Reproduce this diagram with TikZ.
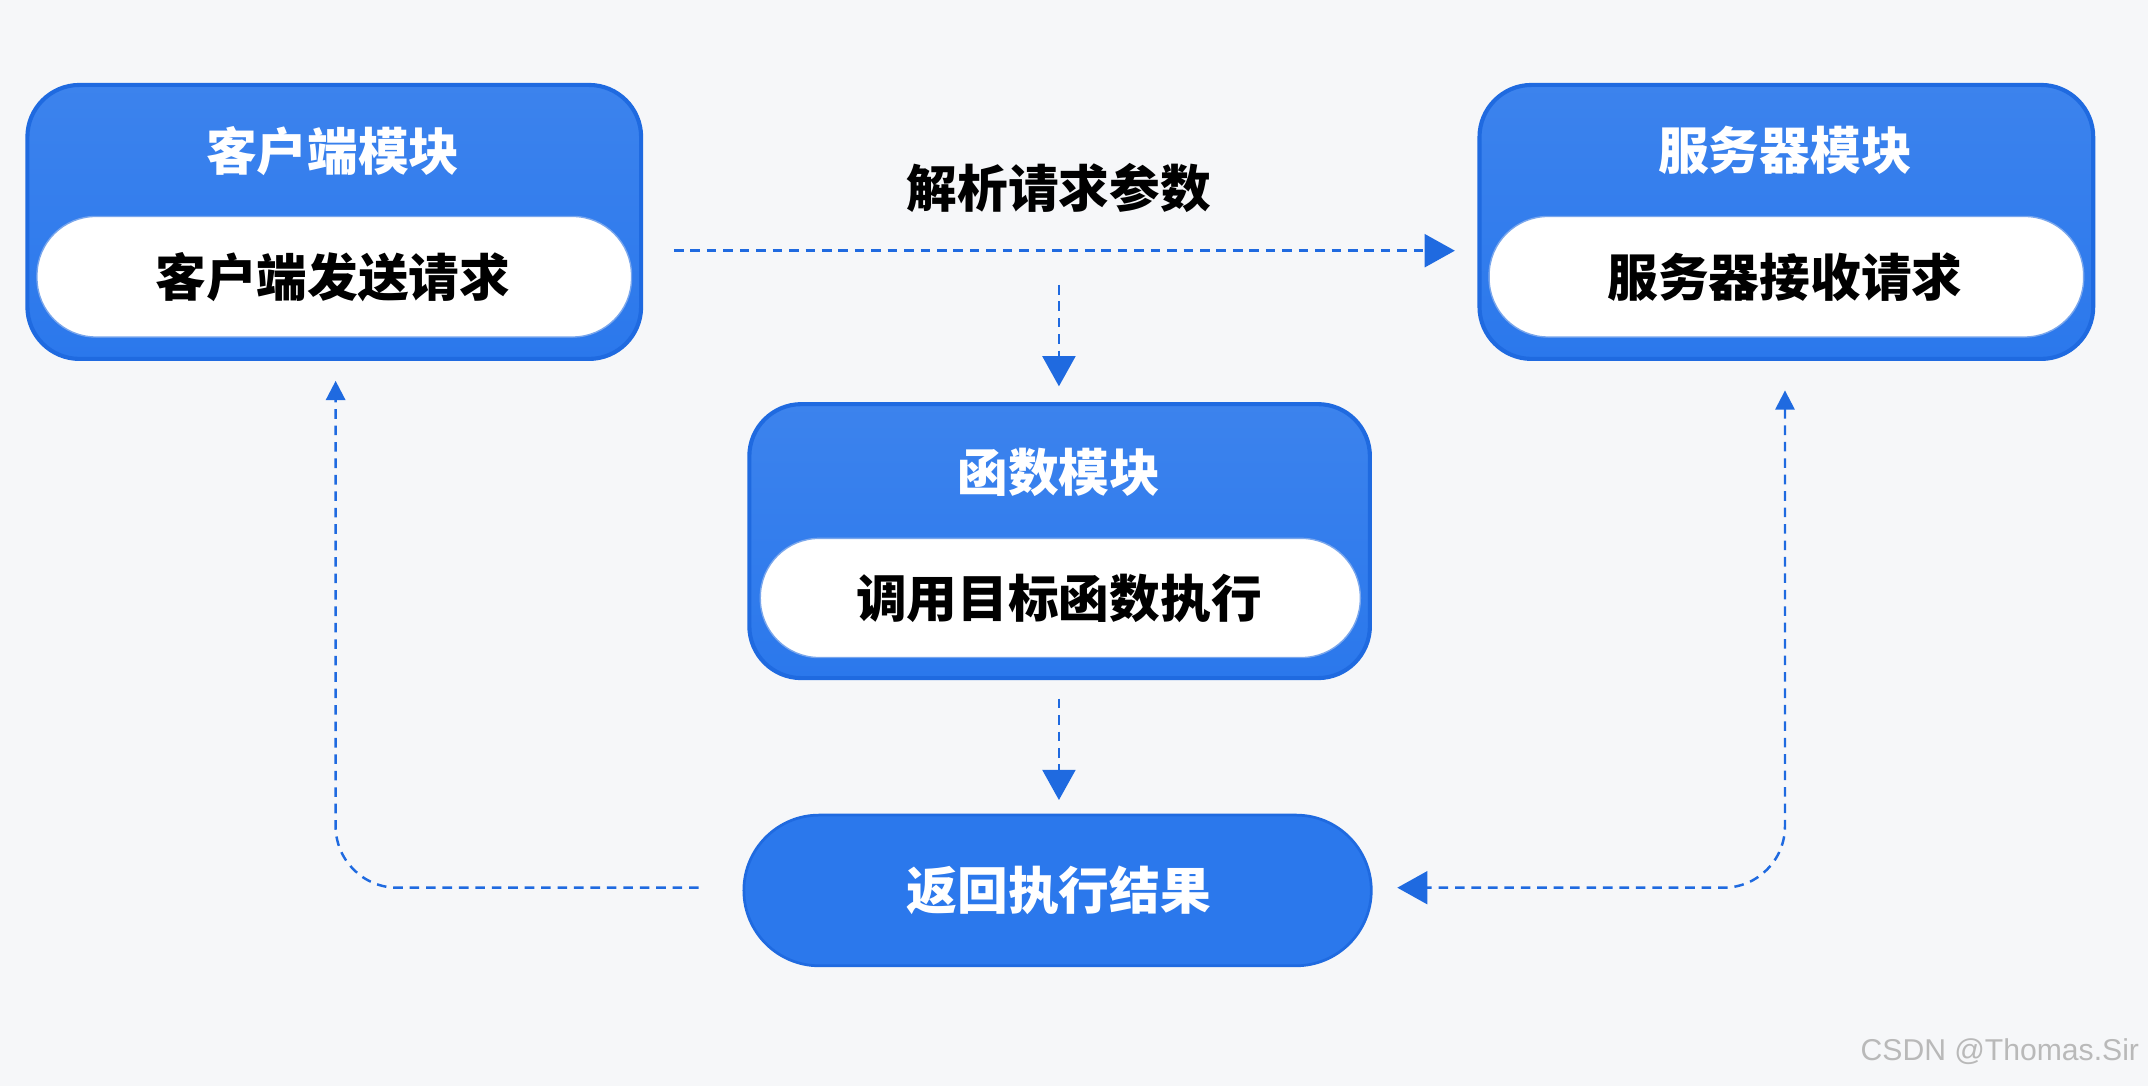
\documentclass[tikz,border=0pt]{standalone}
\usepackage{fontspec}
\newfontfamily\cjk{Noto Sans CJK SC}
\usetikzlibrary{arrows.meta}
\definecolor{bl}{HTML}{2B78EC}
\definecolor{bld}{HTML}{1F6AE0}
\definecolor{bg}{HTML}{F6F7F9}
\begin{document}
\begin{tikzpicture}[x=1pt,y=-1pt,
  modbox/.style={draw=bld,line width=3pt,top color=bl!92!white,bottom color=bl,rounded corners=38pt,inner sep=0pt},
  pill/.style={fill=white,draw=bld!60,line width=1pt,rounded corners=43pt,inner sep=0pt},
  big/.style={font=\cjk\bfseries\fontsize{37}{37}\selectfont},
  ttl/.style={big,text=white},
  flow/.style={bld,line width=1.8pt,dash pattern=on 7pt off 5pt,-{Triangle[length=22pt,width=24pt]}}]
\fill[bg] (0,0) rectangle (1568,793);
\useasboundingbox (0,0) rectangle (1568,793);
% client
\path[modbox] (20,62) rectangle (468,262);
\node[ttl] (ct) at (243,110) {客户端模块};
\path[pill] (27,158) rectangle (461,246);
\node[big] (c) at (243,202) {客户端发送请求};
% server
\path[modbox] (1080,62) rectangle (1528,262);
\node[ttl] (st) at (1303,110) {服务器模块};
\path[pill] (1087,158) rectangle (1521,246);
\node[big] (s) at (1303,202) {服务器接收请求};
% function
\path[modbox] (547,295) rectangle (1000,495);
\node[ttl] (ft) at (773,345) {函数模块};
\path[pill] (555,393) rectangle (993,480);
\node[big] (f) at (773,437) {调用目标函数执行};
% return
\path[draw=bld,line width=2pt,fill=bl,rounded corners=55pt] (543,595) rectangle (1001,705);
\node[ttl] (r) at (773,650) {返回执行结果};
% label
\node[big] (lab) at (773,137) {解析请求参数};
% coordinates
\coordinate (a1) at (492,183); \coordinate (a2) at (1062,183);
\coordinate (b1) at (773,208); \coordinate (b2) at (773,282);
\coordinate (d1) at (773,510); \coordinate (d2) at (773,584);
\coordinate (e1) at (1303,285); \coordinate (e2) at (1020,648);
\coordinate (g1) at (510,648); \coordinate (g2) at (245,278);
\draw[flow] (a1) -- (a2);
\draw[flow] (b1) -- (b2);
\draw[flow] (d1) -- (d2);
\draw[flow,{Triangle[length=14pt,width=14pt]}-{Triangle[length=22pt,width=24pt]}] (e1) -- (1303,603) arc[start angle=0,end angle=90,radius=45] -- (e2);
\draw[flow,-{Triangle[length=14pt,width=14pt]}] (g1) -- (290,648) arc[start angle=90,end angle=180,radius=45] -- (g2);
\node[font=\fontspec{Liberation Sans}\fontsize{22}{22}\selectfont,text=gray!55,anchor=east] (wm) at (1565,768) {CSDN @Thomas.Sir};
\end{tikzpicture}
\end{document}
